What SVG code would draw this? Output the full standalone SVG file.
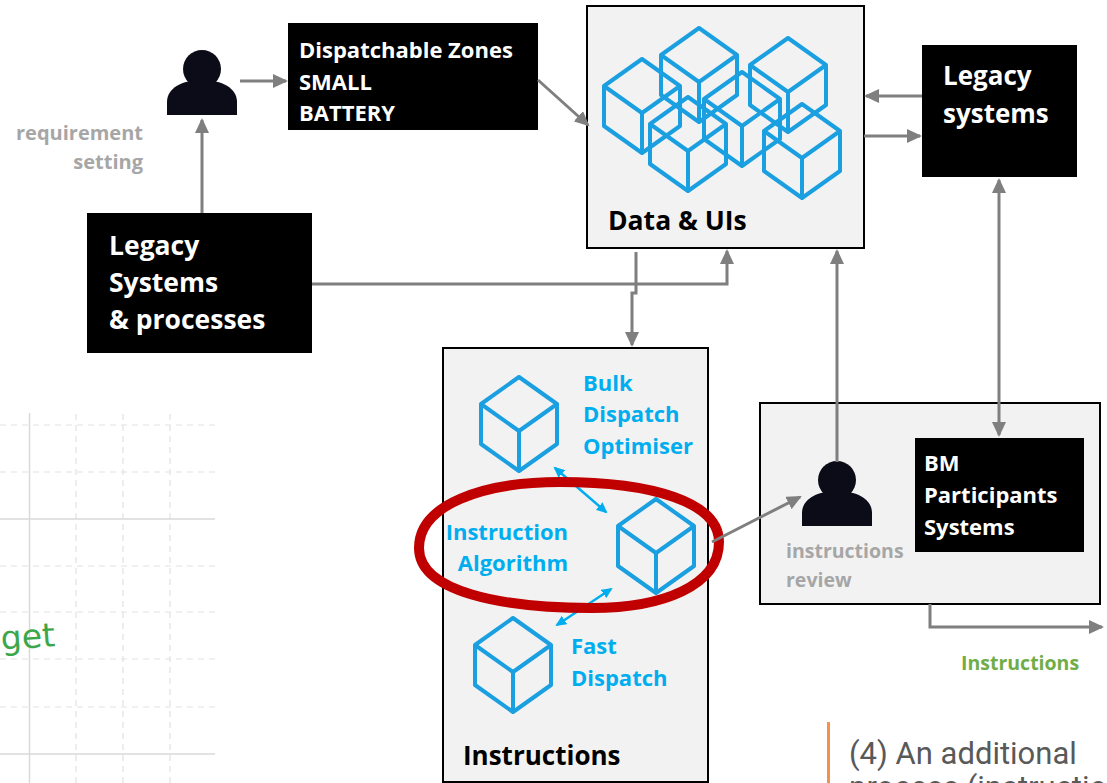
<svg xmlns="http://www.w3.org/2000/svg" width="1107" height="783" viewBox="0 0 1107 783">
<style>
.t{font-family:"Open Sans","Liberation Sans",sans-serif;font-weight:700}
.w{fill:#fff}
.k{fill:#000}
.gr{fill:#a6a6a6}
.bl{fill:#00aeef}
.gn{fill:#70ad47}
.box{fill:#000}
.panel{fill:#f2f2f2;stroke:#000;stroke-width:2}
.cube{fill:none;stroke:#1a9fe0;stroke-width:4;stroke-linejoin:round}
.person{fill:#0c0b18}
.conn{fill:none;stroke:#7f7f7f;stroke-width:3}
.blue{fill:none;stroke:#00aeef;stroke-width:2.5}
.gs{stroke:#d9d9d9;stroke-width:1.5}
.gd{stroke:#e2e2e2;stroke-width:1.2;stroke-dasharray:6 5}
</style>
<defs>
<marker id="ah" markerUnits="userSpaceOnUse" markerWidth="16" markerHeight="14" refX="13" refY="7" orient="auto-start-reverse">
<path d="M0,0 L15,7 L0,14 Z" fill="#7f7f7f"/>
</marker>
<marker id="bh" markerUnits="userSpaceOnUse" markerWidth="12" markerHeight="10" refX="9" refY="5" orient="auto-start-reverse">
<path d="M0,0 L11,5 L0,10 Z" fill="#00aeef"/>
</marker>
<path id="cube" d="M0,0 L38,27 L38,67 L0,94 L-38,67 L-38,27 Z M-38,27 L0,54 L38,27 M0,54 V94"/>
<g id="person"><circle cx="0" cy="0" r="19"/><path d="M-35,46 V33 C-35,19 -20,11 0,11 C20,11 35,19 35,33 V46 Z"/></g>
</defs>

<!-- background grid sheet -->
<g id="grid">
<line class="gd" x1="76" y1="414" x2="76" y2="783"/>
<line class="gd" x1="123" y1="414" x2="123" y2="783"/>
<line class="gd" x1="170" y1="414" x2="170" y2="783"/>
<line class="gd" x1="0" y1="425" x2="215" y2="425"/>
<line class="gd" x1="0" y1="472" x2="215" y2="472"/>
<line class="gd" x1="0" y1="566" x2="215" y2="566"/>
<line class="gd" x1="0" y1="612" x2="215" y2="612"/>
<line class="gd" x1="0" y1="659" x2="215" y2="659"/>
<line class="gd" x1="0" y1="707" x2="215" y2="707"/>
<line class="gs" x1="0" y1="519" x2="215" y2="519"/>
<line class="gs" x1="0" y1="754" x2="215" y2="754"/>
<line class="gs" x1="29.5" y1="413" x2="29.5" y2="783"/>
<text x="1" y="648" transform="rotate(-4 28 640)" font-family="'Comic Sans MS','DejaVu Sans',sans-serif" font-size="33" fill="#3ca64a">get</text>
</g>

<!-- panels -->
<g id="data-uis">
<rect class="panel" x="587" y="6" width="277" height="242"/>
<use href="#cube" class="cube" x="642" y="59"/>
<use href="#cube" class="cube" x="699" y="28"/>
<use href="#cube" class="cube" x="788" y="38"/>
<use href="#cube" class="cube" x="688" y="97"/>
<use href="#cube" class="cube" x="742" y="72"/>
<use href="#cube" class="cube" x="802" y="104"/>
<text class="t k" x="608" y="230" font-size="26.5">Data &amp; UIs</text>
</g>

<g id="instructions">
<rect class="panel" x="443" y="348" width="265" height="434"/>
<use href="#cube" class="cube" x="519" y="377"/>
<use href="#cube" class="cube" x="656" y="499"/>
<use href="#cube" class="cube" x="513" y="618"/>
<text class="t bl" font-size="22"><tspan x="583" y="391">Bulk</tspan><tspan x="583" y="422">Dispatch</tspan><tspan x="583" y="454">Optimiser</tspan></text>
<text class="t bl" font-size="22" text-anchor="end"><tspan x="568" y="540">Instruction</tspan><tspan x="568" y="571">Algorithm</tspan></text>
<text class="t bl" font-size="22"><tspan x="571" y="654">Fast</tspan><tspan x="571" y="686">Dispatch</tspan></text>
<text class="t k" x="463" y="765" font-size="26">Instructions</text>
<line class="blue" x1="555" y1="468" x2="606" y2="512" marker-start="url(#bh)" marker-end="url(#bh)"/>
<line class="blue" x1="611" y1="589" x2="557" y2="625" marker-start="url(#bh)" marker-end="url(#bh)"/>
</g>

<g id="bm-area">
<rect class="panel" x="760" y="403" width="340" height="201"/>
<use href="#person" class="person" x="837" y="480"/>
<text class="t gr" font-size="19.5"><tspan x="786" y="558">instructions</tspan><tspan x="786" y="587">review</tspan></text>
</g>

<g id="bm-systems">
<rect class="box" x="915" y="438" width="169" height="114"/>
<text class="t w" font-size="22"><tspan x="924" y="471">BM</tspan><tspan x="924" y="503">Participants</tspan><tspan x="924" y="535">Systems</tspan></text>
</g>

<g id="dispatchable-zones">
<rect class="box" x="288" y="23" width="250" height="107"/>
<text class="t w" font-size="22"><tspan x="299" y="58">Dispatchable Zones</tspan><tspan x="299" y="90">SMALL</tspan><tspan x="299" y="121">BATTERY</tspan></text>
</g>

<g id="legacy-systems">
<rect class="box" x="922" y="45" width="155" height="132"/>
<text class="t w" font-size="26"><tspan x="943" y="85">Legacy</tspan><tspan x="943" y="123">systems</tspan></text>
</g>

<g id="legacy-processes">
<rect class="box" x="87" y="213" width="225" height="140"/>
<text class="t w" font-size="26.5"><tspan x="109" y="255">Legacy</tspan><tspan x="109" y="292">Systems</tspan><tspan x="109" y="329">&amp; processes</tspan></text>
</g>

<g id="requirement-setter">
<use href="#person" class="person" x="202" y="69"/>
<text class="t gr" font-size="20" text-anchor="end"><tspan x="143" y="140">requirement</tspan><tspan x="143" y="169">setting</tspan></text>
</g>

<!-- highlight around the instruction algorithm -->
<path d="M419,548 C419,505 482,482 560,482 C652,482 719,502 719,542 C719,586 662,608 592,608 C502,608 419,592 419,548 Z" fill="none" stroke="#c00000" stroke-width="10"/>

<!-- connectors -->
<g id="connectors">
<line class="conn" x1="240" y1="81" x2="286" y2="81" marker-end="url(#ah)"/>
<line class="conn" x1="202" y1="213" x2="202" y2="120" marker-end="url(#ah)"/>
<line class="conn" x1="538" y1="80" x2="588" y2="125" marker-end="url(#ah)"/>
<line class="conn" x1="922" y1="96" x2="866" y2="96" marker-end="url(#ah)"/>
<line class="conn" x1="864" y1="136" x2="920" y2="136" marker-end="url(#ah)"/>
<line class="conn" x1="999" y1="180" x2="999" y2="435" marker-start="url(#ah)" marker-end="url(#ah)"/>
<path class="conn" d="M312,284 H727 V251" marker-end="url(#ah)"/>
<path class="conn" d="M636,252 V293 H632 V345" marker-end="url(#ah)"/>
<path class="conn" d="M837,462 V251" marker-end="url(#ah)"/>
<line class="conn" x1="712" y1="542" x2="800" y2="497" marker-end="url(#ah)"/>
<path class="conn" d="M930,604 V627 H1102" marker-end="url(#ah)"/>
</g>

<text class="t gn" x="961" y="670" font-size="19.5">Instructions</text>

<!-- side note -->
<line x1="828.5" y1="722" x2="828.5" y2="783" stroke="#f4914a" stroke-width="3"/>
<text font-family="Roboto,'Liberation Sans',sans-serif" font-size="31" fill="#595959"><tspan x="849" y="764">(4) An additional</tspan><tspan x="849" y="798">process (instructions</tspan></text>
</svg>
